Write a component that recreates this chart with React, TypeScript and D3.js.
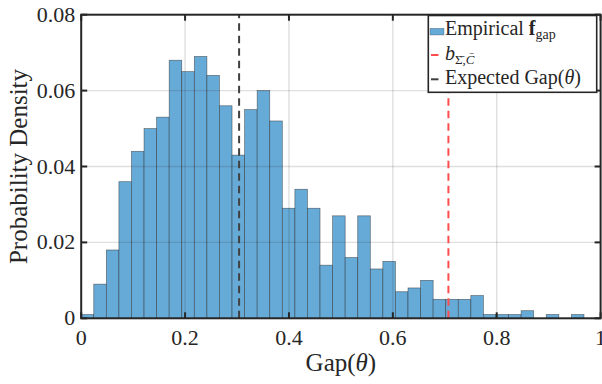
import * as d3 from "d3";

// histogram values (probability per bin), bins start at 0
const binStart = 0;
const binWidth = 0.0242;
const binValues = [
  0.001, 0.009, 0.018, 0.036, 0.044, 0.05, 0.053, 0.068, 0.065, 0.069,
  0.064, 0.056, 0.043, 0.055, 0.06, 0.052, 0.029, 0.034, 0.029, 0.014,
  0.027, 0.016, 0.027, 0.013, 0.015, 0.007, 0.008, 0.01, 0.005, 0.005,
  0.005, 0.006, 0.001, 0.001, 0.001, 0.002, 0, 0.001, 0, 0.001,
];
const boundValue = 0.707; // b (red dashed)
const expectedGap = 0.304; // expected gap (black dashed)

const xTicks = [0, 0.2, 0.4, 0.6, 0.8, 1];
const xTickLabels = ["0", "0.2", "0.4", "0.6", "0.8", "1"];
const yTicks = [0, 0.02, 0.04, 0.06, 0.08];
const yTickLabels = ["0", "0.02", "0.04", "0.06", "0.08"];

const width = 602;
const height = 384;
const margin = { left: 81.2, right: 1.4, top: 14.7, bottom: 65.7 };
const font = "'Liberation Serif', 'Times New Roman', serif";
const axisColor = "#262626";

export default function App() {
  const x = d3
    .scaleLinear()
    .domain([0, 1])
    .range([margin.left, width - margin.right]);
  const y = d3
    .scaleLinear()
    .domain([0, 0.08])
    .range([height - margin.bottom, margin.top]);

  const bins = binValues.map((v, i) => ({
    x0: binStart + i * binWidth,
    x1: binStart + (i + 1) * binWidth,
    v,
  }));

  const [x0, x1] = x.range();
  const [yb, yt] = y.range();
  const tickLen = 6;

  return (
    <svg
      width={width}
      height={height}
      style={{ position: "absolute", left: 0, top: 0, background: "#fff" }}
      fontFamily={font}
    >
      {/* bars */}
      {bins
        .filter((b) => b.v > 0)
        .map((b, i) => (
          <rect
            key={i}
            x={x(b.x0)}
            y={y(b.v)}
            width={x(b.x1) - x(b.x0)}
            height={y(0) - y(b.v)}
            fill="#66aad7"
            stroke="#262626"
            strokeOpacity={0.6}
            strokeWidth={0.7}
          />
        ))}

      {/* grid on top */}
      {xTicks.slice(1, -1).map((t) => (
        <line
          key={"gx" + t}
          x1={x(t)}
          x2={x(t)}
          y1={yb}
          y2={yt}
          stroke="rgba(38,38,38,0.15)"
          strokeWidth={1.4}
        />
      ))}
      {yTicks.slice(1, -1).map((t) => (
        <line
          key={"gy" + t}
          x1={x0}
          x2={x1}
          y1={y(t)}
          y2={y(t)}
          stroke="rgba(38,38,38,0.15)"
          strokeWidth={1.4}
        />
      ))}

      {/* reference lines */}
      <line
        x1={x(boundValue)}
        x2={x(boundValue)}
        y1={yb}
        y2={yt}
        stroke="#ff4d4d"
        strokeWidth={2}
        strokeDasharray="7.5,5"
      />
      <line
        x1={x(expectedGap)}
        x2={x(expectedGap)}
        y1={yb}
        y2={yt}
        stroke="#404040"
        strokeWidth={2}
        strokeDasharray="7.5,5"
      />

      {/* ticks */}
      {xTicks.map((t) => (
        <g key={"tx" + t}>
          <line x1={x(t)} x2={x(t)} y1={yb} y2={yb - tickLen} stroke={axisColor} strokeWidth={2} />
          <line x1={x(t)} x2={x(t)} y1={yt} y2={yt + tickLen} stroke={axisColor} strokeWidth={2} />
        </g>
      ))}
      {yTicks.map((t) => (
        <g key={"ty" + t}>
          <line x1={x0} x2={x0 + tickLen} y1={y(t)} y2={y(t)} stroke={axisColor} strokeWidth={2} />
          <line x1={x1} x2={x1 - tickLen} y1={y(t)} y2={y(t)} stroke={axisColor} strokeWidth={2} />
        </g>
      ))}

      {/* axes box */}
      <rect
        x={x0}
        y={yt}
        width={x1 - x0}
        height={yb - yt}
        fill="none"
        stroke={axisColor}
        strokeWidth={2}
      />

      {/* tick labels */}
      {xTicks.map((t, i) => (
        <text
          key={"lx" + t}
          x={x(t)}
          y={yb + 27}
          textAnchor="middle"
          fontSize={22}
          fill={axisColor}
        >
          {xTickLabels[i]}
        </text>
      ))}
      {yTicks.map((t, i) => (
        <text
          key={"ly" + t}
          x={x0 - 6}
          y={y(t) + 7}
          textAnchor="end"
          fontSize={22}
          fill={axisColor}
        >
          {yTickLabels[i]}
        </text>
      ))}

      {/* axis labels */}
      <text
        x={(x0 + x1) / 2}
        y={371}
        textAnchor="middle"
        fontSize={25}
        fill={axisColor}
      >
        Gap(<tspan fontStyle="italic">θ</tspan>)
      </text>
      <text
        transform={`translate(27, ${(yt + yb) / 2}) rotate(-90)`}
        textAnchor="middle"
        fontSize={25}
        fill={axisColor}
      >
        Probability Density
      </text>

      {/* legend */}
      <g>
        <rect
          x={428.3}
          y={15.5}
          width={168.4}
          height={76.8}
          fill="#fff"
          stroke={axisColor}
          strokeWidth={1.6}
        />
        <rect x={430} y={28.3} width={14} height={6.7} fill="#66aad7" stroke="#262626" strokeOpacity={0.5} strokeWidth={0.5} />
        <text x={445} y={35} fontSize={20} fill={axisColor}>
          Empirical <tspan fontWeight="bold">f</tspan>
          <tspan fontSize={14} dy={4}>gap</tspan>
        </text>
        <line x1={431} x2={438.5} y1={55} y2={55} stroke="#ff4d4d" strokeWidth={2} />
        <text x={445} y={59.5} fontSize={20} fill={axisColor}>
          <tspan fontStyle="italic">b</tspan>
          <tspan fontSize={13} dy={4}>Σ̄,</tspan>
          <tspan fontSize={13} fontStyle="italic">C̄</tspan>
        </text>
        <line x1={431} x2={438.5} y1={79.3} y2={79.3} stroke="#404040" strokeWidth={2} />
        <text x={445} y={84} fontSize={20} fill={axisColor}>
          Expected Gap(<tspan fontStyle="italic">θ</tspan>)
        </text>
      </g>
    </svg>
  );
}
